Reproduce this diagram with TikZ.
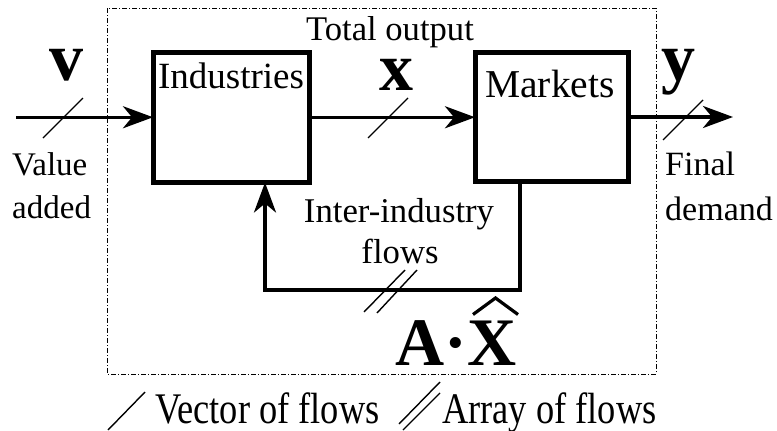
\documentclass[tikz,border=0pt]{standalone}
\usepackage{graphicx}
\usepackage{fontspec}
\setmainfont{Liberation Serif}
\usetikzlibrary{arrows.meta}

\begin{document}
\begin{tikzpicture}[x=1pt,y=-1pt,
  txt/.style={font=\fontsize{34}{43}\selectfont, inner sep=0pt, anchor=base},
  big/.style={font=\fontsize{68}{70}\selectfont\bfseries, inner sep=0pt, anchor=base},
  vecsym/.style={big, text height=32pt},
  boxn/.style={draw, line width=5pt, rectangle, inner sep=0pt, outer sep=0pt, anchor=north west},
  flow/.style={line width=3.5pt, line join=miter, -{Stealth[length=30pt,width=22pt,inset=9pt]}},
  tick/.style={line width=1.4pt},
  frame/.style={line width=0.8pt, dash pattern=on 5pt off 2pt on 1pt off 2pt}]
\useasboundingbox (0,0) rectangle (777,431);

% frame
\draw[frame] (107,8) rectangle (656,374);

% boxes
\node[boxn, minimum width=156pt, minimum height=130.5pt] (ind) at (153,52) {};
\node[boxn, minimum width=153.5pt, minimum height=129pt] (mkt) at (475,52.5) {};

% labels in boxes and top
\node[txt, font=\fontsize{34.6}{40}\selectfont, text depth=0pt] (tot) at (390,40) {Total output};
\node[txt, font=\fontsize{37}{40}\selectfont] (indl) at (231,88) {Industries};
\node[txt, font=\fontsize{39.5}{40}\selectfont] (mktl) at (550,97) {Markets};

% bold vector symbols
\node[vecsym] (v) at (66,80) {v};
\node[vecsym] (x) at (396,90) {x};
\node[vecsym] (y) at (678,80) {y};

% side labels
\node[txt, font=\fontsize{33}{40}\selectfont, anchor=base west] (val) at (12,175) {Value};
\node[txt, font=\fontsize{33}{40}\selectfont, anchor=base west] (add) at (12,218) {added};
\node[txt, anchor=base west] (fin) at (665,175) {Final};
\node[txt, anchor=base west] (dem) at (665,220) {demand};

% inter-industry labels
\node[txt, font=\fontsize{34.7}{40}\selectfont] (inter) at (399,222) {Inter-industry};
\node[txt, font=\fontsize{34.7}{40}\selectfont] (flw) at (400,263) {flows};
\node[big] (ax) at (456,365) {A·X};
% hat over X
\draw[line width=3.2pt, line join=miter] (473,314.5) -- (495.5,298) -- (518,314.5);

% connectors
\coordinate (vin) at (16,117.25);
\coordinate (yout) at (733,117);
\coordinate (fbR) at (520,290);
\coordinate (fbL) at (265,290);
\draw[flow] (vin) -- (vin -| ind.west);
\draw[flow] (ind.east) -- (ind.east -| mkt.west);
\draw[flow] (mkt.east) -- (mkt.east -| yout);
\draw[flow] (mkt.south -| fbR) -- (fbR) -- (fbL) -- (fbL |- ind.south);

% ticks
\draw[tick] (43,138) -- (83,98);
\draw[tick] (368,138) -- (408,98);
\draw[tick] (663,140) -- (703,100);
\draw[tick] (364,312) -- (405,270);
\draw[tick] (377,313) -- (417,270);

% legend
\draw[tick] (108,430) -- (145,392);
\draw[tick] (399,424) -- (440,382);
\draw[tick] (403,430) -- (440,393);
\node[txt, font=\fontsize{36.4}{40}\selectfont, anchor=base west] (vec) at (155,423) {\scalebox{1}[1.2]{Vector of flows}};
\node[txt, font=\fontsize{36.4}{40}\selectfont, anchor=base west] (arr) at (442,423) {\scalebox{1}[1.2]{Array of flows}};
\end{tikzpicture}
\end{document}
